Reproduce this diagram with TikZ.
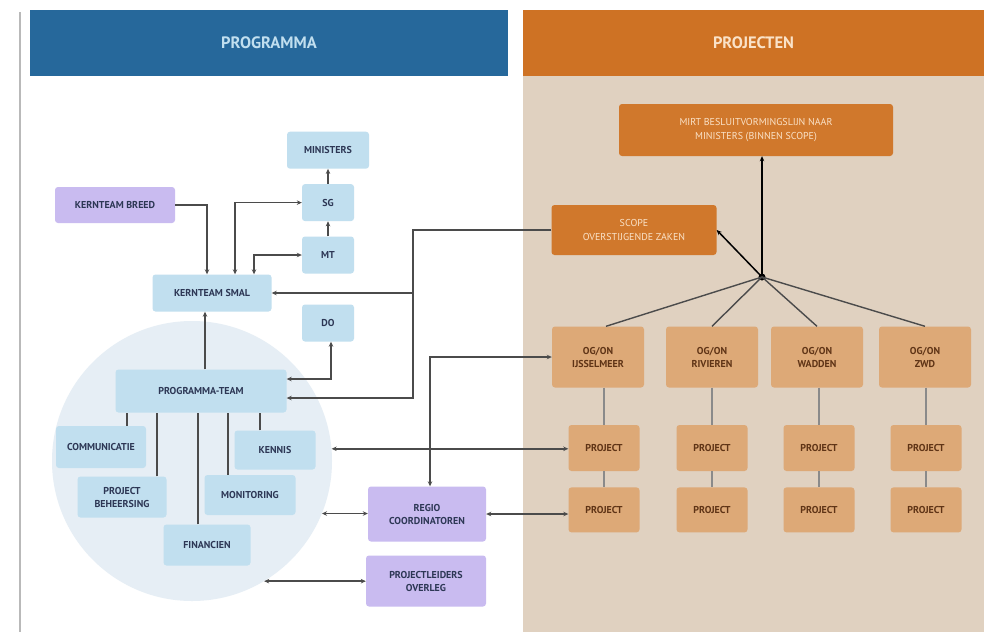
\documentclass[tikz,border=0pt]{standalone}
\usepackage{fontspec}
\setmainfont{PT Sans}
\usetikzlibrary{shapes, arrows.meta, positioning, calc}
\definecolor{hdrblue}{RGB}{38, 104, 155}
\definecolor{hdrorange}{RGB}{206, 114, 36}
\definecolor{panelbeige}{RGB}{224, 209, 192}
\definecolor{boxblue}{RGB}{193, 223, 239}
\definecolor{circleblue}{RGB}{230, 238, 245}
\definecolor{boxpurple}{RGB}{201, 187, 240}
\definecolor{boxorange}{RGB}{208, 120, 44}
\definecolor{boxtan}{RGB}{221, 169, 119}
\definecolor{textnavy}{RGB}{45, 55, 85}
\definecolor{textbrown}{RGB}{95, 52, 22}
\definecolor{textpeach}{RGB}{250, 226, 200}
\definecolor{linegray}{RGB}{75, 75, 75}

\begin{document}
\begin{tikzpicture}[
  x=1pt, y=-1pt,
  header/.style={rectangle, font=\fontsize{16.5}{18}\selectfont\bfseries},
  box/.style={rectangle, rounded corners=3pt, inner sep=1.5pt, align=center,
              font=\fontsize{10}{13}\selectfont\bfseries},
  bluebox/.style={box, fill=boxblue, text=textnavy},
  purplebox/.style={box, fill=boxpurple, text=textnavy},
  darkbox/.style={box, fill=boxorange, text=textpeach, font=\fontsize{10}{14}\selectfont},
  tanbox/.style={box, fill=boxtan, text=textbrown},
  arr/.style={-{Stealth[length=5pt, width=4.5pt]}, line width=1.5pt, linegray},
  arrboth/.style={arr, {Stealth[length=5pt, width=4.5pt]}-{Stealth[length=5pt, width=4.5pt]}},
  link/.style={line width=1.3pt, linegray!65}
]
  \useasboundingbox (0,0) rectangle (984,632);
  \fill[white] (0,0) rectangle (984,632);
  \draw[gray!55, line width=2pt] (20,12) -- (20,632);
  \fill[panelbeige] (523,76) rectangle (984,632);
  \node[header, fill=hdrblue, minimum width=478pt, minimum height=66pt, text=boxblue] (hprog) at (269,43) {PROGRAMMA};
  \node[header, fill=hdrorange, minimum width=461pt, minimum height=66pt, text=textpeach] (hproj) at (753.5,43) {PROJECTEN};

  % programma side
  \node[circle, fill=circleblue, minimum size=280pt, inner sep=0pt] (pcircle) at (192,461) {};
  \node[bluebox, minimum width=52pt, minimum height=37pt] (mt) at (328,255) {MT};
  \node[bluebox, minimum width=52pt, minimum height=37pt, above=15pt of mt] (sg) {SG};
  \node[bluebox, minimum width=82pt, minimum height=37pt, above=15pt of sg] (ministers) {MINISTERS};
  \node[purplebox, minimum width=120pt, minimum height=36pt] (breed) at (115,205) {KERNTEAM BREED};
  \node[bluebox, minimum width=119pt, minimum height=37pt] (smal) at (212,293) {KERNTEAM SMAL};
  \node[bluebox, minimum width=52pt, minimum height=37pt] (do) at (328,323) {DO};
  \node[bluebox, minimum width=171pt, minimum height=43pt] (pteam) at (201,391) {PROGRAMMA-TEAM};
  \node[bluebox, minimum width=90pt, minimum height=42pt] (comm) at (101,447) {COMMUNICATIE};
  \node[bluebox, minimum width=89pt, minimum height=41pt] (beh) at (122,497) {PROJECT\\BEHEERSING};
  \node[bluebox, minimum width=81pt, minimum height=39pt] (kennis) at (275,450) {KENNIS};
  \node[bluebox, minimum width=91pt, minimum height=40pt] (monitor) at (250,495) {MONITORING};
  \node[bluebox, minimum width=87pt, minimum height=41pt] (fin) at (207,545) {FINANCIEN};
  \node[purplebox, minimum width=118pt, minimum height=55pt] (regio) at (427,514) {REGIO\\COORDINATOREN};
  \node[purplebox, minimum width=120pt, minimum height=51pt] (overleg) at (426,581) {PROJECTLEIDERS\\OVERLEG};

  % projecten side
  \node[darkbox, minimum width=274pt, minimum height=52pt] (mirt) at (756,130) {MIRT BESLUITVORMINGSLIJN NAAR\\MINISTERS (BINNEN SCOPE)};
  \node[darkbox, minimum width=165pt, minimum height=50pt] (scope) at (634,230) {SCOPE\\OVERSTIJGENDE ZAKEN};
  \node[tanbox, minimum width=92pt, minimum height=61pt] (og1) at (598,357) {OG/ON\\IJSSELMEER};
  \node[tanbox, minimum width=92pt, minimum height=61pt] (og2) at (712,357) {OG/ON\\RIVIEREN};
  \node[tanbox, minimum width=92pt, minimum height=61pt] (og3) at (817,357) {OG/ON\\WADDEN};
  \node[tanbox, minimum width=92pt, minimum height=61pt] (og4) at (925,357) {OG/ON\\ZWD};
  \node[tanbox, minimum width=71pt, minimum height=46pt] (p11) at (604,448) {PROJECT};
  \node[tanbox, minimum width=71pt, minimum height=46pt] (p12) at (712,448) {PROJECT};
  \node[tanbox, minimum width=71pt, minimum height=46pt] (p13) at (819,448) {PROJECT};
  \node[tanbox, minimum width=71pt, minimum height=46pt] (p14) at (926,448) {PROJECT};
  \node[tanbox, minimum width=71pt, minimum height=45pt, below=16pt of p11] (p21) {PROJECT};
  \node[tanbox, minimum width=71pt, minimum height=45pt, below=16pt of p12] (p22) {PROJECT};
  \node[tanbox, minimum width=71pt, minimum height=45pt, below=16pt of p13] (p23) {PROJECT};
  \node[tanbox, minimum width=71pt, minimum height=45pt, below=16pt of p14] (p24) {PROJECT};
  \coordinate (hub) at (762,277);
  \coordinate (sbend) at (413,293);

  % connectors programma
  \draw[arr] (breed.east) -| ([xshift=-5pt]smal.north);
  \draw[arrboth] ([xshift=23pt]smal.north) |- (sg.west);
  \draw[arrboth] ([xshift=42pt]smal.north) |- (mt.west);
  \draw[arr] (mt) -- (sg);
  \draw[arr] (sg) -- (ministers);
  \draw[arr] ([xshift=4pt]pteam.north) -- ([xshift=4pt]pteam.north |- smal.south);
  \draw[arrboth] ([yshift=12pt]pteam.east) -| ([xshift=3pt]do.south);
  \draw[link, linegray] ([xshift=26pt]comm.north) -- ([xshift=26pt]comm.north |- pteam.south);
  \draw[link, linegray] ([xshift=35pt]beh.north) -- ([xshift=35pt]beh.north |- pteam.south);
  \draw[link, linegray] ([xshift=-9pt]fin.north) -- ([xshift=-9pt]fin.north |- pteam.south);
  \draw[link, linegray] ([xshift=-22pt]monitor.north) -- ([xshift=-22pt]monitor.north |- pteam.south);
  \draw[link, linegray] ([xshift=-15pt]kennis.north) -- ([xshift=-15pt]kennis.north |- pteam.south);

  % connectors between the two sides
  \draw[arr] (scope.west) -| (sbend) -- (smal.east);
  \draw[arr] (sbend) |- ([yshift=-7pt]pteam.east);
  \draw[arrboth] (pcircle.5) -- (pcircle.5 -| p11.west);
  \draw[arrboth] ([xshift=3pt]regio.north) |- (og1.west);
  \draw[arrboth] (pcircle.-22) -- (pcircle.-22 -| regio.west);
  \draw[arrboth] (regio.east) -- (regio.east -| p21.west);
  \draw[arrboth] (pcircle.-59) -- (pcircle.-59 -| overleg.west);

  % connectors projecten
  \fill[black] (hub) circle (3.5pt);
  \draw[arr, black] (hub) -- (hub |- mirt.south);
  \draw[arr, black] (hub) -- (scope.east);
  \draw[line width=1.4pt, linegray] (hub) -- ([xshift=8pt]og1.north);
  \draw[line width=1.4pt, linegray] (hub) -- (og2.north);
  \draw[line width=1.4pt, linegray] (hub) -- (og3.north);
  \draw[line width=1.4pt, linegray] (hub) -- (og4.north);
  \draw[link] (p11.north |- og1.south) -- (p11.north);
  \draw[link] (p12.north |- og2.south) -- (p12.north);
  \draw[link] (p13.north |- og3.south) -- (p13.north);
  \draw[link] (p14.north |- og4.south) -- (p14.north);
  \draw[link] (p11) -- (p21);
  \draw[link] (p12) -- (p22);
  \draw[link] (p13) -- (p23);
  \draw[link] (p14) -- (p24);
\end{tikzpicture}
\end{document}
